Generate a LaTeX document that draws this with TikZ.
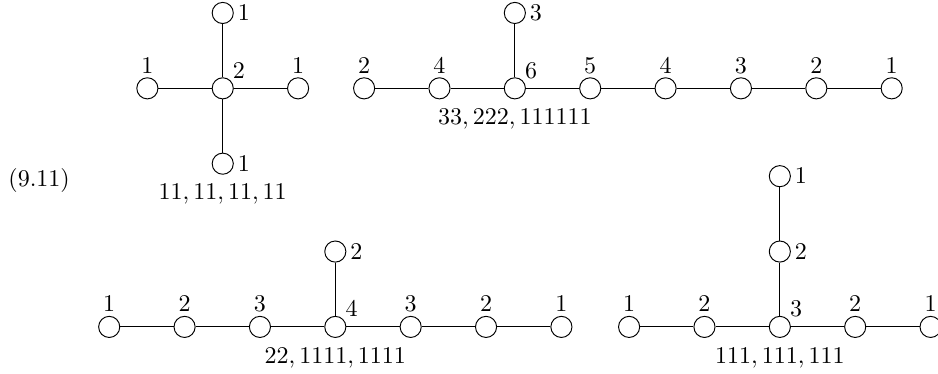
\documentclass[tikz,border=0pt]{standalone}
\usepackage{amsmath, amssymb}
\usetikzlibrary{positioning}

\begin{document}
\begin{tikzpicture}[
    node distance=31.4pt, on grid,
    vtx/.style={circle, draw, inner sep=0pt, minimum size=8.8pt},
    every label/.style={inner sep=1.5pt},
    corner/.style={inner sep=0.8pt},
    typ/.style={inner sep=3.8pt}
]
\useasboundingbox (0,0) rectangle (390.8pt,155.8pt);

% Number
\node (eqno) at (16.3pt,80.4pt) {(9.11)};

% First diagram
\node[vtx, label={[corner]above right:$2$}] (d4c) at (92.8pt,119pt) {};
\node[vtx, label=above:$1$, left=of d4c] (d4l) {};
\node[vtx, label=above:$1$, right=of d4c] (d4r) {};
\node[vtx, label=right:$1$, above=of d4c] (d4t) {};
\node[vtx, label=right:$1$, label={[typ]below:$11, 11, 11, 11$}, below=of d4c] (d4b) {};

\draw (d4l) -- (d4c) -- (d4r);
\draw (d4t) -- (d4c) -- (d4b);

% Second diagram
\node[vtx, label=above:$2$] (e8a) at (151.7pt,119pt) {};
\node[vtx, label=above:$4$, right=of e8a] (e8b) {};
\node[vtx, label={[corner]above right:$6$}, label={[typ]below:$33, 222, 111111$}, right=of e8b] (e8c) {};
\node[vtx, label=above:$5$, right=of e8c] (e8d) {};
\node[vtx, label=above:$4$, right=of e8d] (e8e) {};
\node[vtx, label=above:$3$, right=of e8e] (e8f) {};
\node[vtx, label=above:$2$, right=of e8f] (e8g) {};
\node[vtx, label=above:$1$, right=of e8g] (e8h) {};
\node[vtx, label=right:$3$, above=of e8c] (e8t) {};

\draw (e8a) -- (e8b) -- (e8c) -- (e8d) -- (e8e) -- (e8f) -- (e8g) -- (e8h);
\draw (e8t) -- (e8c);

% Third diagram
\node[vtx, label=above:$1$] (e7a) at (45.5pt,19.6pt) {};
\node[vtx, label=above:$2$, right=of e7a] (e7b) {};
\node[vtx, label=above:$3$, right=of e7b] (e7c) {};
\node[vtx, label={[corner]above right:$4$}, label={[typ]below:$22, 1111, 1111$}, right=of e7c] (e7d) {};
\node[vtx, label=above:$3$, right=of e7d] (e7e) {};
\node[vtx, label=above:$2$, right=of e7e] (e7f) {};
\node[vtx, label=above:$1$, right=of e7f] (e7g) {};
\node[vtx, label=right:$2$, above=of e7d] (e7t) {};

\draw (e7a) -- (e7b) -- (e7c) -- (e7d) -- (e7e) -- (e7f) -- (e7g);
\draw (e7t) -- (e7d);

% Fourth diagram
\node[vtx, label=above:$1$] (e6a) at (262.1pt,19.6pt) {};
\node[vtx, label=above:$2$, right=of e6a] (e6b) {};
\node[vtx, label={[corner]above right:$3$}, label={[typ]below:$111, 111, 111$}, right=of e6b] (e6c) {};
\node[vtx, label=above:$2$, right=of e6c] (e6d) {};
\node[vtx, label=above:$1$, right=of e6d] (e6e) {};
\node[vtx, label=right:$2$, above=of e6c] (e6m) {};
\node[vtx, label=right:$1$, above=of e6m] (e6t) {};

\draw (e6a) -- (e6b) -- (e6c) -- (e6d) -- (e6e);
\draw (e6t) -- (e6m) -- (e6c);

\end{tikzpicture}
\end{document}
